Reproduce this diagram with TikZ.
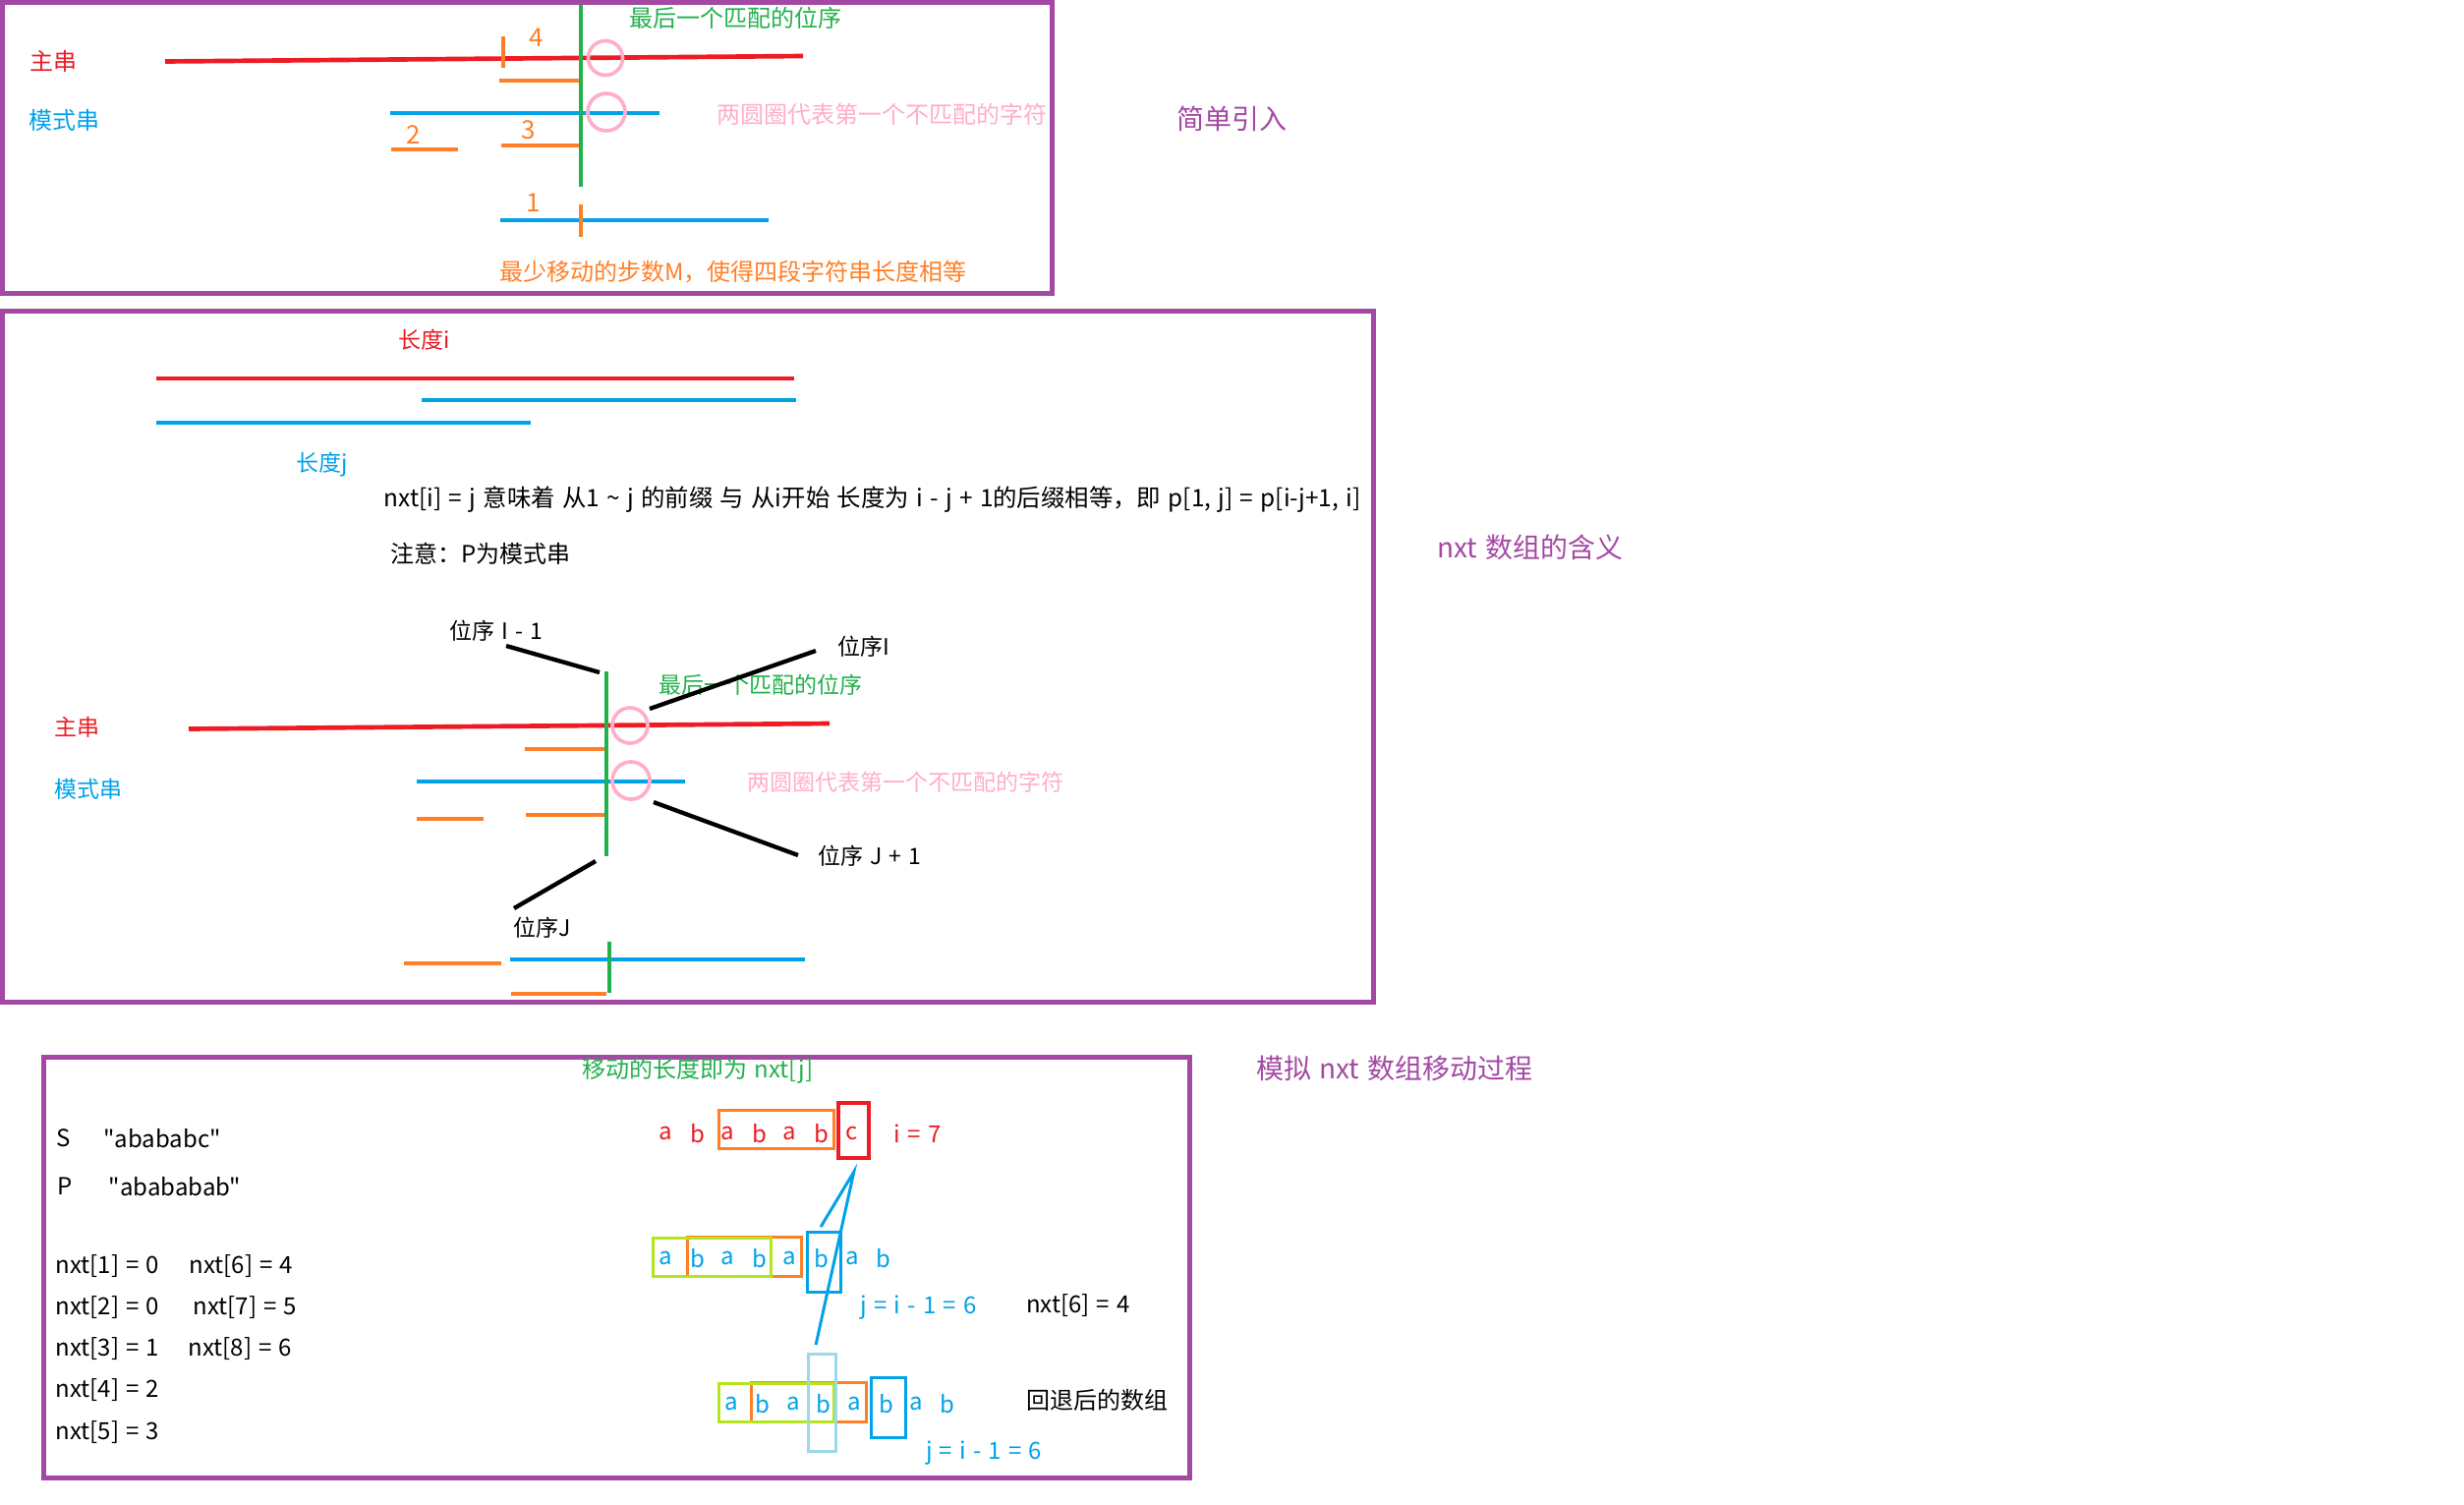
\documentclass[tikz,border=0pt]{standalone}
\usepackage{fontspec}
\setmainfont{Noto Sans CJK SC}[Ligatures=TeXOff]
\definecolor{cred}{HTML}{ED1C24}
\definecolor{cblue}{HTML}{00A2E8}
\definecolor{cgreen}{HTML}{22B14C}
\definecolor{corange}{HTML}{FF7F27}
\definecolor{cpink}{HTML}{FFAEC9}
\definecolor{cpurple}{HTML}{A349A4}
\definecolor{clime}{HTML}{B5E61D}
\definecolor{cltblue}{HTML}{99D9EA}
\newcommand\widesp{\spaceskip 0.3em\relax}
\newcommand\fsA{\fontsize{7.2pt}{8.6pt}\selectfont\widesp}
\newcommand\fsL{\fontsize{7.32pt}{8.8pt}\selectfont\widesp}
\newcommand\fsB{\fontsize{6.9pt}{8.3pt}\selectfont\widesp}
\newcommand\fsT{\fontsize{8.4pt}{10pt}\selectfont\widesp}
\begin{document}
\begin{tikzpicture}[x=0.3pt,y=-0.3pt,
  frame/.style={draw=cpurple,line width=1.5pt},
  seg/.style={line width=1.4pt},
  vline/.style={cgreen,line width=1.1pt},
  lbl/.style={inner sep=0pt,font=\fsA},
  mlbl/.style={inner sep=0pt,font=\fsB},
  num/.style={inner sep=0pt,text=corange,font=\fontsize{7.8pt}{9pt}\selectfont},
  ttl/.style={inner sep=0pt,text=cpurple,font=\fsT},
  ring/.style={draw=cpink,line width=1.1pt},
  ptr/.style={black,line width=1.3pt},
  cell/.style={inner sep=0pt,font=\fontsize{7.2pt}{8.6pt}\selectfont},
  bx/.style={line width=0.9pt},
]
\useasboundingbox (0,0) rectangle (2507,1531);
\fill[white] (0,0) rectangle (2507,1531);

% ---------------- top panel ----------------
\draw[frame] (2.5,2.5) rectangle (1070,298.5);
\node[lbl,text=cred] (zc1) at (54,62) {主串};
\node[lbl,text=cblue] (ms1) at (65,122) {模式串};
\draw[seg,cred] (168,62.5) -- (817,57);
\draw[seg,cblue] (397,115) -- (671,115);
\draw[seg,corange] (508,82) -- (590,82);
\draw[seg,corange] (398,152) -- (466,152);
\draw[seg,corange] (510,148) -- (590,148);
\draw[seg,cblue] (509,224) -- (782,224);
\draw[corange,line width=1.1pt] (512,37) -- (512,69);
\draw[corange,line width=1.1pt] (591,208) -- (591,241);
\draw[vline] (591,5) -- (591,190);
\draw[ring] (616,59) circle (17.5);
\draw[ring] (617,114) circle (19);
\node[num] (n4) at (546,38) {4};
\node[num] (n2) at (421,137) {2};
\node[num] (n3) at (538,132) {3};
\node[num] (n1) at (543,206) {1};
\node[lbl,text=cgreen] (lastm1) at (748,18) {最后一个匹配的位序};
\node[lbl,text=cpink] (circ1) at (897,116) {两圆圈代表第一个不匹配的字符};
\node[lbl,text=corange] (minm) at (746,277) {最少移动的步数M，使得四段字符串长度相等};
\node[ttl] (t1) at (1253,121) {简单引入};

% ---------------- middle panel ----------------
\draw[frame] (2.5,316.5) rectangle (1397.5,1019);
\node[mlbl,text=cred] (li) at (432,346) {长度i};
\draw[seg,cred] (159,385) -- (808,385);
\draw[seg,cblue] (429,407) -- (810,407);
\draw[seg,cblue] (159,430) -- (540,430);
\node[mlbl,text=cblue] (lj) at (328,473) {长度j};
\node[inner sep=0pt,font=\fsL,anchor=west] (mean) at (390,508) {nxt[i] = j 意味着 从1 \textasciitilde{} j 的前缀 与 从i开始 长度为 i - j + 1的后缀相等，即 p[1, j] = p[i-j+1, i]};
\node[lbl,anchor=west] (note) at (397,563) {注意：P为模式串};
\node[ttl] (t2) at (1557,557) {nxt 数组的含义};

\node[mlbl] (pi1) at (505,642) {位序 I - 1};
\node[mlbl] (pii) at (879,658) {位序I};
\node[mlbl,text=cgreen] (lastm2) at (774,697) {最后一个匹配的位序};
\node[mlbl,text=cred] (zc2) at (78,740) {主串};
\node[mlbl,text=cblue] (ms2) at (90,803) {模式串};
\node[mlbl,text=cpink] (circ2) at (921,796) {两圆圈代表第一个不匹配的字符};
\node[mlbl] (pj1) at (885,871) {位序 J + 1};
\node[mlbl] (pj) at (552,944) {位序J};

\draw[seg,cred] (192,741.5) -- (844,736);
\draw[seg,corange] (534,762) -- (615,762);
\draw[seg,cblue] (424,795) -- (697,795);
\draw[seg,corange] (424,833) -- (492,833);
\draw[seg,corange] (535,829) -- (615,829);
\draw[vline] (617,683) -- (617,871);
\draw[ring] (641,738) circle (18);
\draw[ring] (642,794) circle (19);
\draw[seg,cblue] (519,976) -- (819,976);
\draw[seg,corange] (411,980) -- (510,980);
\draw[seg,corange] (520,1011) -- (617,1011);
\draw[vline] (620,958) -- (620,1010);

\coordinate (a1) at (515,657);  \coordinate (a2) at (610,684);
\coordinate (b1) at (830,662);  \coordinate (b2) at (661,721);
\coordinate (c1) at (665,816);  \coordinate (c2) at (812,870);
\coordinate (d1) at (606,876);  \coordinate (d2) at (523,924);
\draw[ptr] (a1) -- (a2);
\draw[ptr] (b1) -- (b2);
\draw[ptr] (c1) -- (c2);
\draw[ptr] (d1) -- (d2);

% ---------------- bottom panel ----------------
\draw[frame] (44,1075) rectangle (1210,1503);
\node[lbl,text=cgreen] (mvlen) at (710,1089) {移动的长度即为 nxt[j]};
\node[ttl] (t3) at (1419,1087) {模拟 nxt 数组移动过程};

\node[lbl] (sS) at (65,1158) {S};
\node[lbl] (sSv) at (165,1158) {"abababc"};
\node[lbl] (sP) at (66,1207) {P};
\node[lbl] (sPv) at (178,1207) {"abababab"};
\node[lbl,anchor=west] (x1) at (56,1288) {nxt[1] = 0};
\node[lbl,anchor=west] (x2) at (56,1330) {nxt[2] = 0};
\node[lbl,anchor=west] (x3) at (56,1372) {nxt[3] = 1};
\node[lbl,anchor=west] (x4) at (56,1414) {nxt[4] = 2};
\node[lbl,anchor=west] (x5) at (56,1457) {nxt[5] = 3};
\node[lbl,anchor=west] (x6) at (192,1288) {nxt[6] = 4};
\node[lbl,anchor=west] (x7) at (196,1330) {nxt[7] = 5};
\node[lbl,anchor=west] (x8) at (191,1372) {nxt[8] = 6};

% row S
\foreach \ch/\xx [count=\k] in {a/677.5,b/709.6,a/740.6,b/772.7,a/803.7,b/835.9,c/866.9}
  \node[cell,text=cred] (s\k) at (\xx,1153) {\ch};
\node[lbl,text=cred] (ieq) at (933.6,1153) {i = 7};
\draw[bx,corange] (731,1129) rectangle (848.5,1168);
\draw[bx,cred,line width=1.1pt] (853,1122) rectangle (883.7,1178);

% row P (before)
\foreach \ch/\xx [count=\k] in {a/677.5,b/709.6,a/740.6,b/772.7,a/803.7,b/835.9,a/866.9,b/899.4}
  \node[cell,text=cblue] (p\k) at (\xx,1280) {\ch};
\draw[bx,corange] (699.3,1258) rectangle (815.2,1298);
\draw[bx,clime] (664.9,1259) rectangle (784.2,1298);
\draw[bx,cblue] (821,1253) rectangle (855,1314);
\node[lbl,text=cblue] (jeq1) at (934.5,1330) {j = i - 1 = 6};
\node[lbl] (nx6) at (1097,1328) {nxt[6] = 4};

% row P (after)
\foreach \ch/\xx [count=\k] in {a/744,b/775.8,a/807.2,b/838.2,a/869.5,b/902,a/932.7,b/964.4}
  \node[cell,text=cblue] (q\k) at (\xx,1428) {\ch};
\draw[bx,corange] (764.3,1406) rectangle (881,1446);
\draw[bx,clime] (731,1407) rectangle (848.5,1446);
\draw[bx,cltblue] (822.9,1377) rectangle (850.4,1476);
\draw[bx,cblue] (886.7,1401) rectangle (921.2,1462);
\node[lbl] (back) at (1116,1424) {回退后的数组};
\node[lbl,text=cblue] (jeq2) at (1001,1478) {j = i - 1 = 6};

\coordinate (apex) at (868.8,1192);
\coordinate (ca) at (835.1,1248);
\coordinate (cb) at (830.1,1368);
\draw[cblue,line width=0.9pt] (ca) -- (apex) -- (cb);
\end{tikzpicture}
\end{document}
